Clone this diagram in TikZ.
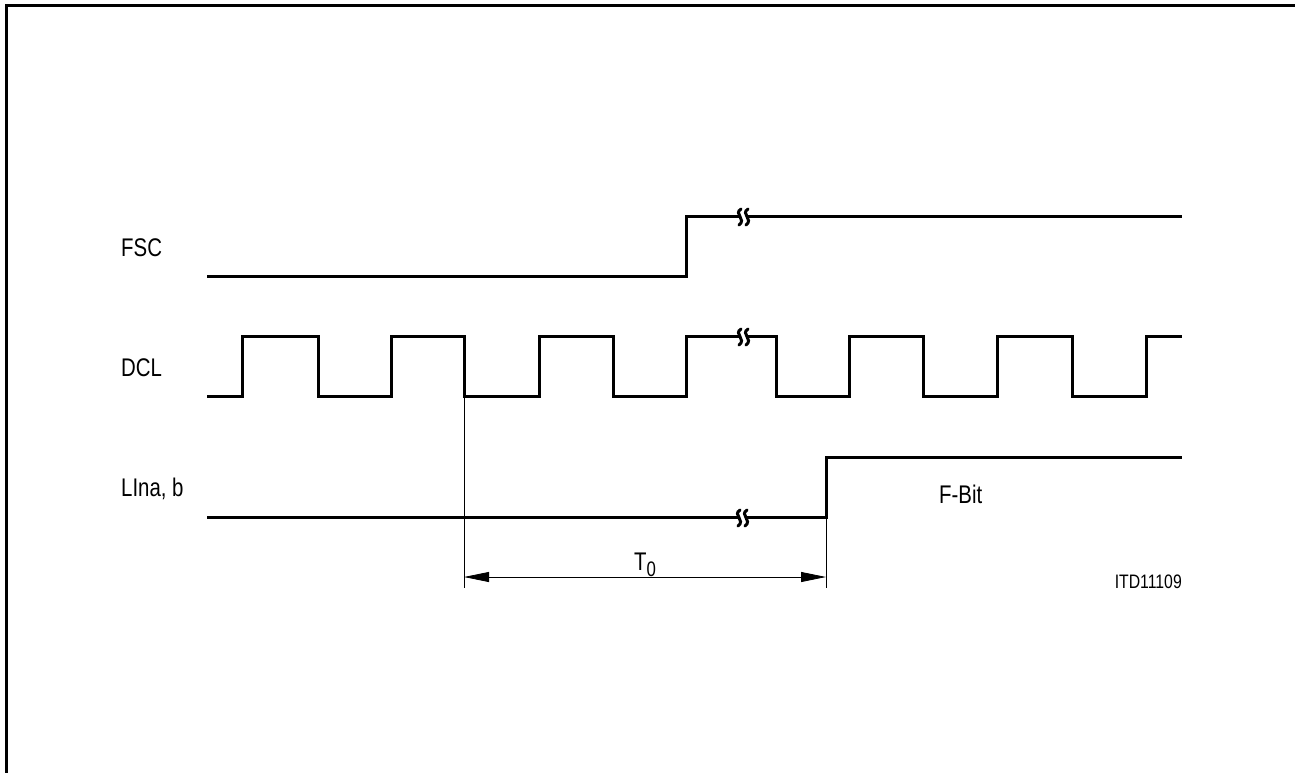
\documentclass[tikz,border=0pt]{standalone}
\usepackage{fontspec}
\setmainfont{Liberation Sans}
\usetikzlibrary{arrows.meta}
\begin{document}
\begin{tikzpicture}[x=1pt,y=-1pt,
  sig/.style={line width=3pt, line join=miter, line cap=butt},
  dimln/.style={line width=0.8pt},
  lbl/.style={inner sep=0pt, anchor=base west, font=\fontsize{25.5}{30}\selectfont},
  brkline/.style={line width=3pt, line cap=round},
  brk/.pic={
    \fill[white] (-4,-7) rectangle (4,7);
    \draw[brkline] (-2,-8) .. controls (-10,-3) and (4,2) .. (-4,8);
    \draw[brkline] (5,-8) .. controls (-3,-3) and (11,2) .. (3,8);
  }]
\useasboundingbox (0,0) rectangle (1295,773);
\draw[line width=3pt] (6,780) -- (6,6) -- (1305,6);

% labels
\node[lbl] (fsc) at (121,256) {\scalebox{0.8}[1]{FSC}};
\node[lbl] (dcl) at (121,376) {\scalebox{0.8}[1]{DCL}};
\node[lbl] (lina) at (121,496) {\scalebox{0.8}[1]{LIna, b}};
\node[lbl] (fbit) at (939,503) {\scalebox{0.8}[1]{F-Bit}};
\node[inner sep=0pt, anchor=base east, font=\fontsize{19.5}{24}\selectfont] (itd) at (1182,588) {\scalebox{0.81}[1]{ITD11109}};
\node[lbl] (t0) at (634,570) {\scalebox{0.8}[1]{T\raisebox{-6pt}{\fontsize{21}{22}\selectfont 0}}};

% FSC
\draw[sig] (207,276) -- (686,276) -- (686,216) -- (1182,216);
\pic at (743,217) {brk};

% DCL
\draw[sig] (207,396) -- (242,396) -- (242,336) -- (318,336) -- (318,396) -- (391,396) -- (391,336) -- (464,336) -- (464,396) -- (539,396) -- (539,336) -- (613,336) -- (613,396) -- (686,396) -- (686,336) -- (776,336) -- (776,396) -- (849,396) -- (849,336) -- (923,336) -- (923,396) -- (997,396) -- (997,336) -- (1072,336) -- (1072,396) -- (1146,396) -- (1146,336) -- (1182,336);
\pic at (743,337) {brk};

% LIna
\draw[sig] (207,517) -- (826,517) -- (826,457) -- (1182,457);
\pic at (742,518) {brk};

% dimension
\coordinate (a0) at (464,396);
\coordinate (a1) at (464,588);
\coordinate (b0) at (826,517);
\coordinate (b1) at (826,588);
\coordinate (da) at (464,577);
\coordinate (db) at (826,577);
\draw[dimln] (a0) -- (a1);
\draw[dimln] (b0) -- (b1);
\draw[dimln, {Triangle[length=25pt,width=10pt]}-{Triangle[length=25pt,width=10pt]}] (da) -- (db);
\end{tikzpicture}
\end{document}
